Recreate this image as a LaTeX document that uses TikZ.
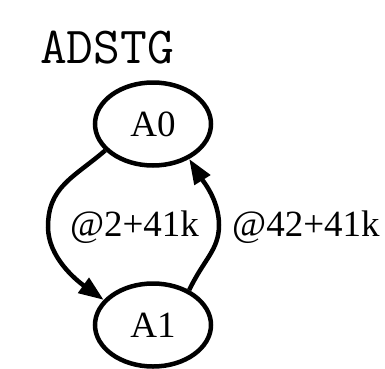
\documentclass[tikz,border=0pt]{standalone}
\usepackage{fontspec}
\setmainfont{Liberation Serif}
\usetikzlibrary{shapes.geometric,arrows.meta}
\begin{document}
\begin{tikzpicture}[x=1pt,y=1pt,
  state/.style={draw,ellipse,line width=4.5pt,minimum width=116pt,minimum height=83pt,
    inner sep=0pt,font=\fontsize{37}{40}\selectfont},
  edge/.style={draw,line width=4.5pt,-{Triangle[length=25pt,width=18pt]}},
  elabel/.style={inner sep=0pt,font=\fontsize{37}{40}\selectfont}]
  \useasboundingbox (0,0) rectangle (385,368);
  % title
  \node[anchor=base west,inner sep=0pt,
        font=\ttfamily\fontsize{52}{54}\selectfont\addfontfeatures{FakeBold=1.5}]
        (title) at (40,305) {ADSTG};
  % states
  \node[state] (A0) at (153,244) {A0};
  \node[state] (A1) at (153,43) {A1};
  % turning points of the two arcs
  \coordinate (lturn) at (48,141);
  \coordinate (rturn) at (219,143);
  % transitions
  \draw[edge] (A0.209) .. controls (73,190) and (48,181) .. (lturn)
              .. controls (48,111) and (76,88) .. (A1.153);
  \draw[edge] (A1.44) .. controls (204,109) and (219,118) .. (rturn)
              .. controls (219,168) and (203,187) .. (A0.316);
  % transition labels
  \node[elabel,anchor=base] (l1) at (134.5,132) {@2+41k};
  \node[elabel,anchor=base west] (l2) at (232,132) {@42+41k};
\end{tikzpicture}
\end{document}
